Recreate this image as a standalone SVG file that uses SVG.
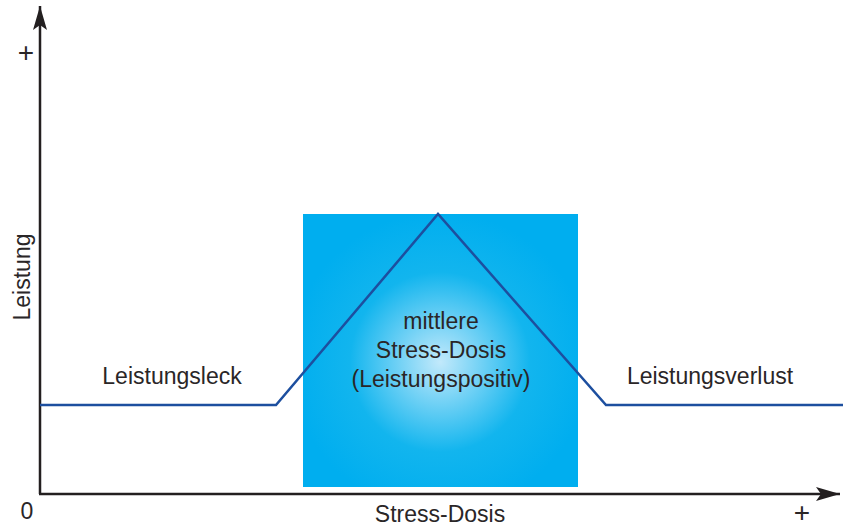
<svg xmlns="http://www.w3.org/2000/svg" width="848" height="527" viewBox="0 0 848 527">
<style>
text{font-family:"Liberation Sans",Arial,sans-serif;font-size:23px;fill:#2a2627}
.plus{font-size:28px}
.axis{stroke:#231f20;stroke-width:2.5;fill:none}
.curve{stroke:#1d4f9f;stroke-width:2.5;fill:none;stroke-linejoin:miter}
</style>
<defs>
<radialGradient id="glow" cx="440" cy="362" r="150" gradientUnits="userSpaceOnUse">
<stop offset="0" stop-color="#c2e9fb"/>
<stop offset="0.6" stop-color="#12b5ee"/>
<stop offset="1" stop-color="#00aeef"/>
</radialGradient>
<marker id="arr" viewBox="0 0 24 14" refX="24" refY="7" markerWidth="24" markerHeight="14" markerUnits="userSpaceOnUse" orient="auto">
<path d="M0,0 L24,7 L0,14 L5,7 Z" fill="#231f20"/>
</marker>
</defs>
<g id="zone">
<rect x="303" y="214" width="275" height="273" fill="url(#glow)"/>
</g>
<g id="connectors">
<path class="axis" d="M40,494 L40,6" marker-end="url(#arr)"/>
<path class="axis" d="M39,494 L840,494" marker-end="url(#arr)"/>
<path class="curve" d="M40,405 L276,405 L438,214 L606,405 L843,405"/>
</g>
<g id="labels">
<text class="plus" x="26" y="62" text-anchor="middle">+</text>
<text x="22" y="277" text-anchor="middle" transform="rotate(-90 22 277)" dy="8">Leistung</text>
<text x="27" y="519" text-anchor="middle">0</text>
<text x="440" y="522" text-anchor="middle">Stress-Dosis</text>
<text class="plus" x="802" y="522" text-anchor="middle">+</text>
<text x="172" y="384" text-anchor="middle">Leistungsleck</text>
<text x="710" y="384" text-anchor="middle">Leistungsverlust</text>
<text x="441" y="329" text-anchor="middle">mittlere</text>
<text x="441" y="358" text-anchor="middle">Stress-Dosis</text>
<text x="441" y="387" text-anchor="middle">(Leistungspositiv)</text>
</g>
</svg>
